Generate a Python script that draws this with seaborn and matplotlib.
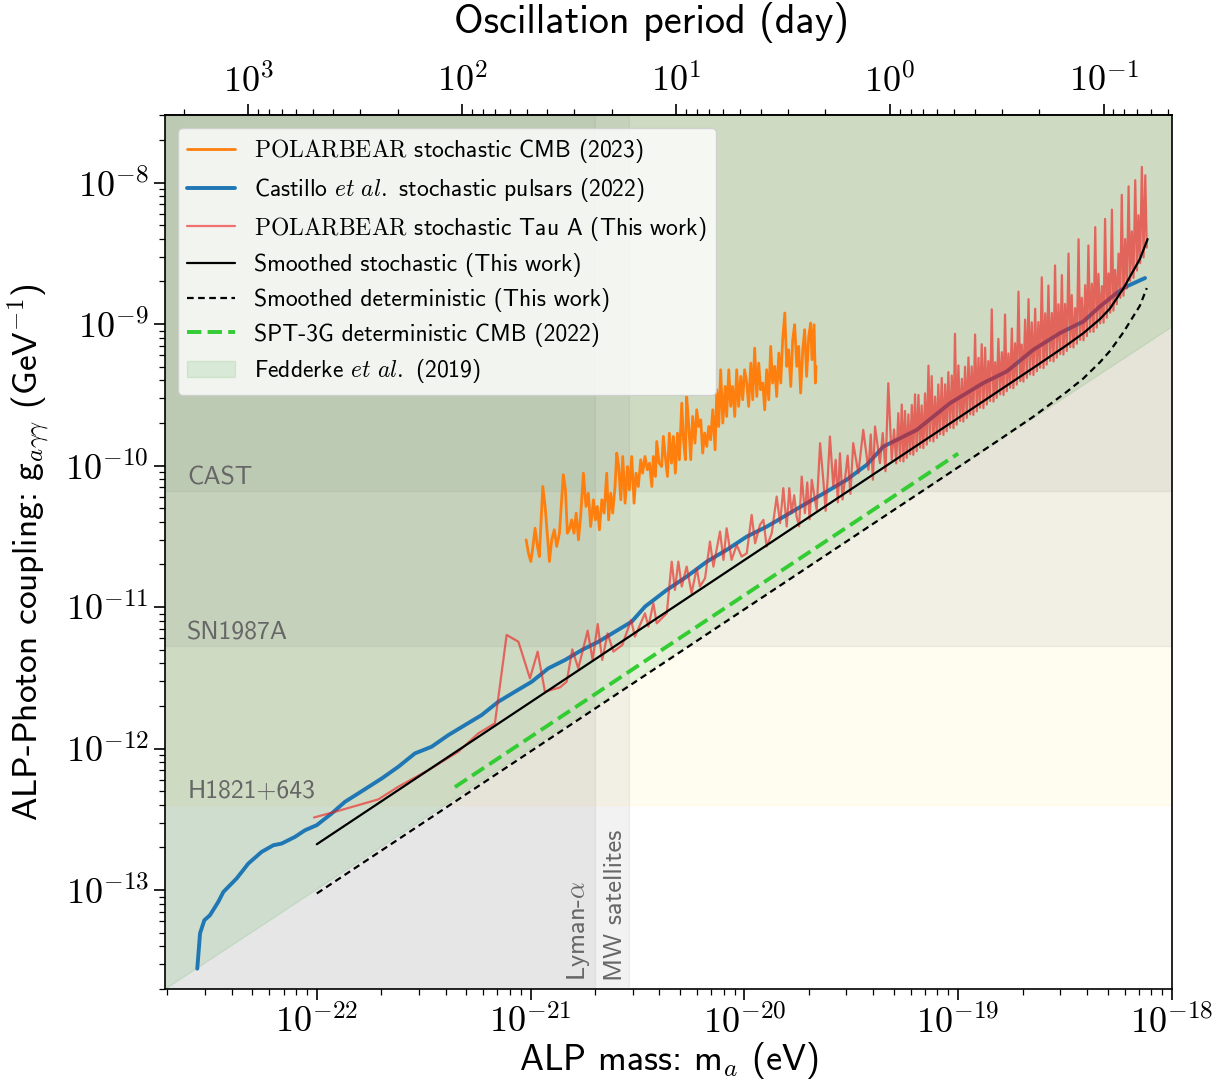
import numpy as np
import matplotlib
matplotlib.use("Agg")
import matplotlib.pyplot as plt
from matplotlib import ticker
import seaborn as sns

# ---------------- data (log10 values) ----------------
# POLARBEAR stochastic CMB (2023)
orange_logm = [-21.021, -21.010, -20.999, -20.990, -20.979, -20.968, -20.959, -20.943, -20.932, -20.921,
               -20.912, -20.901, -20.889, -20.878, -20.865, -20.847, -20.837, -20.828, -20.819, -20.808,
               -20.797, -20.787, -20.776, -20.766, -20.753, -20.741, -20.730, -20.719, -20.706, -20.697,
               -20.688, -20.678, -20.667, -20.656, -20.644, -20.635, -20.625, -20.616, -20.605, -20.597,
               -20.588, -20.578, -20.569, -20.558, -20.547, -20.538, -20.527, -20.516, -20.507, -20.496,
               -20.485, -20.476, -20.465, -20.454, -20.444, -20.433, -20.426, -20.416, -20.410, -20.399,
               -20.387, -20.379, -20.370, -20.360, -20.351, -20.341, -20.332, -20.323, -20.313, -20.304,
               -20.293, -20.285, -20.276, -20.270, -20.260, -20.251, -20.242, -20.231, -20.223, -20.214,
               -20.204, -20.195, -20.186, -20.176, -20.167, -20.158, -20.148, -20.137, -20.129, -20.120,
               -20.111, -20.101, -20.090, -20.083, -20.073, -20.064, -20.055, -20.045, -20.036, -20.027,
               -20.017, -20.008, -19.999, -19.989, -19.980, -19.970, -19.961, -19.952, -19.942, -19.933,
               -19.924, -19.914, -19.905, -19.896, -19.886, -19.877, -19.868, -19.858, -19.849, -19.839,
               -19.830, -19.821, -19.811, -19.802, -19.793, -19.783, -19.774, -19.765, -19.755, -19.746,
               -19.737, -19.727, -19.718, -19.709, -19.699, -19.690, -19.684, -19.674, -19.668, -19.665]
orange_logg = [-10.525, -10.619, -10.678, -10.584, -10.443, -10.572, -10.643, -10.148, -10.289, -10.501,
               -10.678, -10.525, -10.454, -10.572, -10.478, -10.065, -10.171, -10.478, -10.454, -10.384,
               -10.478, -10.336, -10.525, -10.360, -10.054, -10.289, -10.195, -10.431, -10.242, -10.384,
               -10.289, -10.454, -10.242, -10.336, -10.054, -10.384, -10.195, -10.336, -10.148, -9.912,
               -10.007, -10.242, -9.936, -10.266, -10.007, -10.171, -9.936, -10.266, -10.054, -10.148,
               -9.959, -10.054, -9.936, -10.030, -9.983, -10.148, -9.936, -10.077, -9.830, -9.983,
               -10.007, -9.794, -9.936, -10.077, -9.771, -9.983, -9.794, -10.054, -9.771, -9.959,
               -9.559, -9.818, -9.959, -9.512, -9.724, -9.959, -9.653, -9.842, -9.606, -9.724,
               -9.677, -9.912, -9.771, -9.865, -9.724, -9.818, -9.606, -9.889, -9.464, -9.724,
               -9.323, -9.700, -9.441, -9.653, -9.323, -9.582, -9.441, -9.653, -9.323, -9.582,
               -9.370, -9.535, -9.323, -9.417, -9.582, -9.276, -9.535, -9.170, -9.512, -9.276,
               -9.464, -9.417, -9.606, -9.323, -9.535, -9.158, -9.417, -9.299, -9.512, -9.205,
               -9.417, -9.111, -8.922, -9.299, -9.182, -9.441, -9.111, -9.005, -9.299, -9.158,
               -9.488, -9.182, -9.040, -9.370, -9.087, -8.993, -9.252, -9.005, -9.417, -9.299]

# Castillo et al. stochastic pulsars (2022)
castillo_logm = [-22.559, -22.546, -22.526, -22.500, -22.461, -22.437, -22.375, -22.320, -22.258, -22.203,
                 -22.164, -22.102, -22.055, -22.000, -21.930, -21.868, -21.806, -21.696, -21.619, -21.541,
                 -21.463, -21.385, -21.307, -21.229, -21.151, -21.073, -20.995, -20.917, -20.839, -20.761,
                 -20.683, -20.605, -20.527, -20.465, -20.363, -20.270, -20.176, -20.083, -19.989, -19.896,
                 -19.802, -19.709, -19.615, -19.522, -19.428, -19.350, -19.194, -19.038, -18.883, -18.773,
                 -18.649, -18.524, -18.415, -18.337, -18.259, -18.212, -18.126]
castillo_logg = [-13.555, -13.305, -13.213, -13.178, -13.084, -13.013, -12.918, -12.812, -12.730, -12.683,
                 -12.671, -12.624, -12.577, -12.541, -12.458, -12.376, -12.317, -12.211, -12.129, -12.034,
                 -11.987, -11.905, -11.834, -11.763, -11.669, -11.598, -11.528, -11.433, -11.374, -11.304,
                 -11.245, -11.174, -11.103, -10.997, -10.879, -10.785, -10.679, -10.596, -10.502, -10.432,
                 -10.349, -10.266, -10.184, -10.101, -9.995, -9.866, -9.748, -9.559, -9.417, -9.335,
                 -9.182, -9.064, -8.982, -8.876, -8.781, -8.734, -8.675]

# POLARBEAR stochastic Tau A (this work): sparse low-mass part
taua_low_logm = [-22.013, -21.899, -21.712, -21.619, -21.478, -21.338, -21.245, -21.167, -21.112, -21.057,
                 -21.003, -20.967, -20.933, -20.863, -20.831, -20.805, -20.777, -20.733, -20.710, -20.686,
                 -20.665, -20.640, -20.613, -20.571, -20.530, -20.512, -20.465,
                 -20.449, -20.426, -20.410, -20.363, -20.340, -20.325, -20.309, -20.293, -20.270, -20.247,
                 -20.223, -20.208, -20.184, -20.161, -20.145, -20.114, -20.098, -20.083, -20.060, -20.036,
                 -20.013, -19.989, -19.966, -19.950, -19.927, -19.911, -19.896, -19.872,
                 -19.849, -19.833, -19.818, -19.802, -19.790, -19.779, -19.767, -19.756, -19.744, -19.732,
                 -19.717, -19.706, -19.695, -19.685, -19.662, -19.646, -19.631, -19.620, -19.610, -19.600,
                 -19.584, -19.573, -19.563, -19.553, -19.541, -19.530, -19.517, -19.504, -19.491, -19.467,
                 -19.444, -19.420, -19.409, -19.399, -19.389, -19.366, -19.353, -19.340, -19.327, -19.311,
                 -19.300, -19.290, -19.280]
taua_low_logg = [-12.487, -12.440, -12.359, -12.270, -12.152, -12.022, -11.893, -11.822, -11.197, -11.245,
                 -11.504, -11.315, -11.598, -11.568, -11.527, -11.299, -11.433, -11.167, -11.374, -11.120,
                 -11.374, -11.186, -11.315, -11.268, -11.091, -11.209, -11.044,
                 -11.138, -10.973, -11.115, -11.044, -10.679, -10.879, -10.679, -10.855, -10.714, -10.902,
                 -10.726, -10.855, -10.796, -10.537, -10.714, -10.466, -10.667, -10.443, -10.667, -10.561,
                 -10.643, -10.620, -10.349, -10.549, -10.419, -10.384, -10.573, -10.478,
                 -10.219, -10.407, -10.160, -10.431, -10.160, -10.337, -10.210, -10.360, -10.430, -10.078,
                 -10.337, -10.120, -10.380, -10.101, -10.313, -9.842, -10.101, -10.320, -10.080, -9.795,
                 -10.148, -9.960, -10.260, -9.913, -10.240, -10.101, -9.930, -10.200, -9.842, -10.054,
                 -9.748, -10.030, -9.780, -10.100, -9.724, -9.983, -9.770, -10.040, -9.418, -9.960,
                 -9.745, -9.985, -9.630]
# dense high-mass part
taua_high_logm = [-19.272, -19.264, -19.256, -19.249, -19.241, -19.233, -19.225, -19.217, -19.210, -19.202,
                  -19.194, -19.186, -19.178, -19.171, -19.163, -19.155, -19.147, -19.139, -19.132, -19.124,
                  -19.116, -19.108, -19.100, -19.093, -19.085, -19.077, -19.069, -19.061, -19.054, -19.046,
                  -19.038, -19.030, -19.022, -19.015, -19.007, -18.999, -18.991, -18.983, -18.976, -18.968,
                  -18.960, -18.952, -18.944, -18.937, -18.929, -18.921, -18.913, -18.905, -18.898, -18.890,
                  -18.882, -18.874, -18.866, -18.859, -18.851, -18.843, -18.835, -18.827, -18.820, -18.812,
                  -18.804, -18.796, -18.788, -18.781, -18.773, -18.765, -18.757, -18.749, -18.742, -18.734,
                  -18.726, -18.718, -18.710, -18.703, -18.695, -18.687, -18.679, -18.671, -18.664, -18.656,
                  -18.648, -18.640, -18.632, -18.625, -18.617, -18.609, -18.601, -18.593, -18.586, -18.578,
                  -18.570, -18.562, -18.554, -18.547, -18.539, -18.531, -18.523, -18.515, -18.508, -18.500,
                  -18.492, -18.484, -18.476, -18.469, -18.461, -18.453, -18.445, -18.437, -18.430, -18.422,
                  -18.414, -18.406, -18.398, -18.391, -18.383, -18.375, -18.367, -18.359, -18.352, -18.344,
                  -18.336, -18.328, -18.320, -18.313, -18.305, -18.297, -18.289, -18.281, -18.274, -18.266,
                  -18.258, -18.250, -18.242, -18.235, -18.227, -18.219, -18.211, -18.203, -18.196, -18.188,
                  -18.180, -18.172, -18.164, -18.157, -18.149, -18.141, -18.133, -18.125, -18.118]
taua_high_logg = [-9.967, -9.569, -9.971, -9.614, -9.946, -9.638, -9.920, -9.572, -9.924, -9.497,
                  -9.899, -9.501, -9.873, -9.575, -9.877, -9.490, -9.852, -9.294, -9.826, -9.368,
                  -9.830, -9.513, -9.805, -9.427, -9.779, -9.381, -9.783, -9.426, -9.758, -9.340,
                  -9.732, -9.364, -9.736, -9.069, -9.711, -9.293, -9.685, -9.387, -9.689, -9.302,
                  -9.664, -9.236, -9.638, -9.300, -9.642, -9.074, -9.617, -9.239, -9.591, -9.143,
                  -9.595, -9.167, -9.569, -9.262, -9.544, -8.896, -9.548, -9.270, -9.522, -9.105,
                  -9.497, -9.199, -9.501, -8.933, -9.475, -9.208, -9.450, -9.032, -9.454, -9.136,
                  -9.428, -8.771, -9.403, -9.145, -9.407, -8.969, -9.381, -8.824, -9.356, -8.988,
                  -9.360, -8.892, -9.334, -8.986, -9.308, -8.670, -9.312, -8.924, -9.286, -8.728,
                  -9.260, -8.922, -9.264, -8.586, -9.238, -8.860, -9.212, -8.654, -9.216, -8.858,
                  -9.190, -8.502, -9.163, -8.795, -9.166, -8.888, -9.139, -8.401, -9.112, -8.814,
                  -9.115, -8.725, -9.085, -8.445, -9.055, -8.715, -9.055, -8.315, -9.025, -8.645,
                  -8.995, -8.732, -8.990, -8.257, -8.955, -8.642, -8.920, -8.192, -8.905, -8.617,
                  -8.860, -8.502, -8.815, -8.087, -8.800, -8.399, -8.748, -8.027, -8.696, -8.345,
                  -8.674, -7.983, -8.622, -8.231, -8.570, -7.890, -8.529, -7.949, -8.460]

# Smoothed stochastic / deterministic (this work)
smooth_stoch_logm = [-22.0, -21.0, -20.0, -19.0, -18.8, -18.649, -18.493, -18.415, -18.337,
                     -18.29, -18.228, -18.15, -18.114]
smooth_stoch_logg = [-12.676, -11.672, -10.668, -9.664, -9.462, -9.310, -9.150, -9.065, -8.965,
                     -8.890, -8.750, -8.540, -8.400]
smooth_det_logm = [-22.0, -21.0, -20.0, -19.0, -18.8, -18.649, -18.493, -18.415, -18.337,
                   -18.29, -18.228, -18.15, -18.118]
smooth_det_logg = [-13.024, -12.020, -11.016, -10.012, -9.810, -9.655, -9.480, -9.385, -9.270,
                   -9.190, -9.060, -8.870, -8.746]

# SPT-3G deterministic CMB (2022)
spt_logm = [-21.354, -19.0]
spt_logg = [-12.272, -9.915]

# Fedderke et al. (2019) lower edge of excluded region
fedderke_logm = [-23.0, -18.0]
fedderke_logg = [-13.99, -9.02]

# Other bounds
CAST_G = 6.6e-11
SN1987A_G = 5.3e-12
H1821_G = 4.0e-13
LYMAN_M = 2.0e-21
MW_M = 2.9e-21

H_EV_S = 4.135667e-15   # Planck constant (eV s)
DAY_S = 86400.0

# ---------------- style ----------------
sns.set_style("ticks")
plt.rcParams.update({
    "font.family": ["cmss10", "DejaVu Sans"],
    "mathtext.fontset": "cm",
    "axes.unicode_minus": False,
    "axes.edgecolor": "black",
    "axes.linewidth": 1.2,
    "xtick.color": "black",
    "ytick.color": "black",
    "axes.labelcolor": "black",
    "text.color": "black",
})

fig = plt.figure(figsize=(12.23, 10.86), dpi=100)
ax = fig.add_axes([165 / 1223, 1 - 989 / 1086, (1172 - 165) / 1223, (989 - 115) / 1086])
ax.set_xscale("log")
ax.set_yscale("log")
XMIN, XMAX = 1.95e-23, 1e-18
YMIN, YMAX = 2e-14, 3e-8

# background bands
ax.axhspan(H1821_G, 1e-5, color="gold", alpha=0.06, zorder=0.2)
ax.axhspan(SN1987A_G, 1e-5, color="gray", alpha=0.1, zorder=0.3)
ax.axhspan(CAST_G, 1e-5, color="gray", alpha=0.1, zorder=0.4)
ax.axvspan(1e-24, LYMAN_M, color="gray", alpha=0.1, zorder=0.5)
ax.axvspan(1e-24, MW_M, color="gray", alpha=0.1, zorder=0.6)

fed = ax.fill_between(10 ** np.array(fedderke_logm), 10 ** np.array(fedderke_logg), 1e-5,
                      color="tab:green", alpha=0.12, zorder=0.8,
                      label=r"Fedderke $et\ al.$ (2019)")


def draw(logm, logg, **kw):
    sns.lineplot(x=10 ** np.asarray(logm), y=10 ** np.asarray(logg), sort=False,
                 estimator=None, ax=ax, **kw)
    return ax.lines[-1]


taua_logm = taua_low_logm + taua_high_logm
taua_logg = taua_low_logg + taua_high_logg

h_or = draw(orange_logm, orange_logg, color="tab:orange", lw=2.0, zorder=3,
            label=r"$\mathrm{POLARBEAR}$ stochastic CMB (2023)")
h_bl = draw(castillo_logm, castillo_logg, color="tab:blue", lw=2.8, zorder=3,
            label=r"Castillo $et\ al.$ stochastic pulsars (2022)")
h_rd = draw(taua_logm, taua_logg, color="#f01818", alpha=0.6, lw=1.6, zorder=4,
            label=r"$\mathrm{POLARBEAR}$ stochastic Tau A (This work)")
h_bk = draw(smooth_stoch_logm, smooth_stoch_logg, color="black", lw=1.6, zorder=5,
            label="Smoothed stochastic (This work)")
h_bd = draw(smooth_det_logm, smooth_det_logg, color="black", lw=1.6, zorder=5,
            linestyle=(0, (3, 2)), label="Smoothed deterministic (This work)")
h_gr = draw(spt_logm, spt_logg, color="#33cc33", lw=2.8, zorder=5, linestyle="--",
            label="SPT-3G deterministic CMB (2022)")

ax.set_xlim(XMIN, XMAX)
ax.set_ylim(YMIN, YMAX)

# band labels
lab_kw = dict(color="0.4", fontsize=18.5, ha="left", va="bottom")
for g, txt in [(CAST_G, "CAST"), (SN1987A_G, "SN1987A"), (H1821_G, "H1821+643")]:
    ax.annotate(txt, xy=(XMIN, g), xytext=(16, 1), textcoords="offset points", **lab_kw)
for m, txt in [(LYMAN_M, r"Lyman-$\alpha$"), (MW_M, "MW satellites")]:
    ax.annotate(txt, xy=(m, YMIN), xytext=(-2, 6), textcoords="offset points", rotation=90,
                color="0.4", fontsize=19, ha="right", va="bottom")


def decade_fmt(v, pos):
    if v <= 0:
        return ""
    return r"$10^{%d}$" % int(np.round(np.log10(v)))


x_major = [1e-22, 1e-21, 1e-20, 1e-19, 1e-18]
y_major = [1e-13, 1e-12, 1e-11, 1e-10, 1e-9, 1e-8]
t_major = [1e3, 1e2, 1e1, 1e0, 1e-1]

ax.xaxis.set_major_locator(ticker.FixedLocator(x_major))
ax.yaxis.set_major_locator(ticker.FixedLocator(y_major))
for axis in (ax.xaxis, ax.yaxis):
    axis.set_minor_locator(ticker.LogLocator(base=10.0, subs=np.arange(2, 10), numticks=20))
    axis.set_major_formatter(ticker.FuncFormatter(decade_fmt))
    axis.set_minor_formatter(ticker.NullFormatter())

ax.tick_params(which="major", length=8, width=1.2, labelsize=26, direction="out")
ax.tick_params(which="minor", length=4.5, width=0.9, direction="out")

ax.set_xlabel(r"ALP mass: m$_a$ (eV)", fontsize=26, labelpad=0)
ax.set_ylabel(r"ALP-Photon coupling: g$_{a\gamma\gamma}$ (GeV$^{-1}$)", fontsize=25.5, labelpad=10)


def m2t(m):
    m = np.clip(np.asarray(m, dtype=float), 1e-300, None)
    return H_EV_S / m / DAY_S


def t2m(t):
    t = np.clip(np.asarray(t, dtype=float), 1e-300, None)
    return H_EV_S / t / DAY_S


sec = ax.secondary_xaxis("top", functions=(m2t, t2m))
sec.xaxis.set_major_locator(ticker.FixedLocator(t_major))
sec.xaxis.set_minor_locator(ticker.LogLocator(base=10.0, subs=np.arange(2, 10), numticks=20))
sec.xaxis.set_major_formatter(ticker.FuncFormatter(decade_fmt))
sec.xaxis.set_minor_formatter(ticker.NullFormatter())
sec.tick_params(which="major", length=8, width=1.2, labelsize=26, direction="out")
sec.tick_params(which="minor", length=4.5, width=0.9, direction="out")
sec.set_xlabel("Oscillation period (day)", fontsize=29, labelpad=22)
sec.xaxis.label.set_x(0.483)

handles = [h_or, h_bl, h_rd, h_bk, h_bd, h_gr, fed]
labels = [h.get_label() for h in handles]
ax.legend(handles, labels, loc="upper left", fontsize=17, framealpha=0.8,
          borderaxespad=0.55, labelspacing=0.45, handlelength=2.0)

fig.savefig("out.png", dpi=100)
